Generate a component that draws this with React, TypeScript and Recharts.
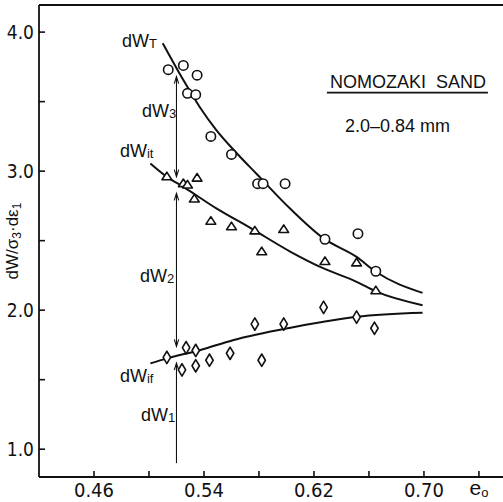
import React from 'react';
import {
  ComposedChart,
  Line,
  Scatter,
  XAxis,
  YAxis,
  ReferenceLine,
  ReferenceDot,
} from 'recharts';

// void ratio e0 of each test
const totalE = [0.514, 0.525, 0.535, 0.528, 0.534, 0.545, 0.560, 0.579, 0.583, 0.599, 0.628, 0.652, 0.665];
// dW_T / sigma3 dE1 (circles)
const totalW = [3.73, 3.76, 3.69, 3.56, 3.55, 3.25, 3.12, 2.91, 2.91, 2.91, 2.51, 2.55, 2.28];

const itE = [0.513, 0.525, 0.528, 0.535, 0.533, 0.545, 0.560, 0.577, 0.582, 0.598, 0.628, 0.651, 0.665];
// dW_it (triangles)
const itW = [2.96, 2.91, 2.90, 2.95, 2.80, 2.64, 2.60, 2.57, 2.42, 2.58, 2.35, 2.34, 2.14];

const ifE = [0.513, 0.527, 0.534, 0.524, 0.534, 0.544, 0.559, 0.577, 0.582, 0.598, 0.627, 0.651, 0.664];
// dW_if (diamonds)
const ifW = [1.66, 1.73, 1.71, 1.57, 1.60, 1.64, 1.69, 1.90, 1.64, 1.90, 2.02, 1.95, 1.87];

// fitted curves
const totalCurveE = [0.510, 0.525, 0.537, 0.549, 0.564, 0.578, 0.603, 0.627, 0.651, 0.665, 0.699];
const totalCurveW = [3.92, 3.655, 3.46, 3.295, 3.127, 2.983, 2.727, 2.516, 2.383, 2.276, 2.124];

const itCurveE = [0.501, 0.513, 0.525, 0.549, 0.574, 0.603, 0.627, 0.651, 0.665, 0.699];
const itCurveW = [3.055, 2.959, 2.887, 2.732, 2.59, 2.42, 2.30, 2.204, 2.135, 2.036];

const ifCurveE = [0.501, 0.513, 0.537, 0.561, 0.603, 0.627, 0.651, 0.699];
const ifCurveW = [1.617, 1.653, 1.712, 1.784, 1.874, 1.916, 1.952, 1.981];

// the vertical arrows splitting dW into dW1, dW2, dW3
const arrowE = 0.520;
const arrow3 = [3.68, 2.96];
const arrow2 = [2.84, 1.74];
const arrow1 = [1.62, 0.90];

const xTicks = [0.46, 0.50, 0.54, 0.58, 0.62, 0.66, 0.70, 0.74];
const xLabelled = [0.46, 0.54, 0.62, 0.70];
const yTicks = [1.0, 1.5, 2.0, 2.5, 3.0, 3.5, 4.0];
const yLabelled = [1.0, 2.0, 3.0, 4.0];

const X_MIN = 0.42;
const X_MAX = 0.7575;
const Y_MIN = 0.8;
const Y_MAX = 4.195;

const INK = '#111';
const NUM_FONT = "'Liberation Sans Narrow', 'DejaVu Sans Condensed', 'Liberation Sans', sans-serif";
const TXT_FONT = "'Liberation Sans', Arial, sans-serif";

const toPoints = (e: number[], w: number[]) => e.map((v, i) => ({ e: v, w: w[i] }));

const OpenCircle = ({ cx, cy }: any) => (
  <circle cx={cx} cy={cy} r={4.7} fill="#fff" stroke={INK} strokeWidth={1.6} />
);

const OpenTriangle = ({ cx, cy }: any) => (
  <path
    d={`M${cx},${cy - 4.6} L${cx + 4.9},${cy + 3} L${cx - 4.9},${cy + 3} Z`}
    fill="#fff"
    stroke={INK}
    strokeWidth={1.6}
    strokeLinejoin="round"
  />
);

const OpenDiamond = ({ cx, cy }: any) => (
  <path
    d={`M${cx},${cy - 6.2} L${cx + 3.7},${cy} L${cx},${cy + 6.2} L${cx - 3.7},${cy} Z`}
    fill="#fff"
    stroke={INK}
    strokeWidth={1.6}
    strokeLinejoin="round"
  />
);

// arrow heads on the ends of a vertical segment: index 0 is the upper end
const arrowDot = (heads: [boolean, boolean]) => (props: any) => {
  const { cx, cy, index } = props;
  if (!heads[index]) return <g key={`a-${index}`} />;
  const s = index === 0 ? 1 : -1;
  return (
    <path
      key={`a-${index}`}
      d={`M${cx - 2.2},${cy + s * 7} L${cx},${cy} L${cx + 2.2},${cy + s * 7}`}
      fill="none"
      stroke={INK}
      strokeWidth={1.1}
    />
  );
};

const XTick = ({ x, y, payload }: any) => {
  const v = Math.round(payload.value * 100);
  const labelled = xLabelled.some((t) => Math.round(t * 100) === v);
  return (
    <g>
      <line x1={x} y1={y} x2={x} y2={y - 6} stroke={INK} strokeWidth={1.6} />
      {labelled && (
        <text x={x} y={y + 20} textAnchor="middle" fontSize={20} fontFamily={NUM_FONT} fill={INK}>
          {payload.value.toFixed(2)}
        </text>
      )}
      {v === 74 && (
        <text x={x} y={y + 18} textAnchor="middle" fontSize={21} fontFamily={TXT_FONT} fill={INK}>
          e<tspan fontSize={13} dy={2}>o</tspan>
        </text>
      )}
    </g>
  );
};

const YTick = ({ x, y, payload }: any) => {
  const labelled = yLabelled.some((t) => Math.abs(t - payload.value) < 1e-6);
  return (
    <g>
      <line x1={x} y1={y} x2={x + 6} y2={y} stroke={INK} strokeWidth={1.6} />
      {labelled && (
        <text x={x - 5} y={y + 7} textAnchor="end" fontSize={19} fontFamily={NUM_FONT} fill={INK}>
          {payload.value.toFixed(1)}
        </text>
      )}
    </g>
  );
};

const subLabel = (main: string, sub: string) => ({ viewBox }: any) => (
  <text x={viewBox.x} y={viewBox.y} fontSize={18} fontFamily={TXT_FONT} fill={INK}>
    {main}
    <tspan fontSize={13} dy={1}>{sub}</tspan>
  </text>
);

const titleLabel = ({ viewBox }: any) => (
  <g>
    <text x={viewBox.x} y={viewBox.y} fontSize={18} fontFamily={TXT_FONT} fill={INK} style={{ whiteSpace: 'pre' }}>
      NOMOZAKI  SAND
    </text>
    <line x1={viewBox.x - 3} y1={viewBox.y + 4.5} x2={viewBox.x + 158} y2={viewBox.y + 4.5} stroke={INK} strokeWidth={1.8} />
  </g>
);

const sizeLabel = ({ viewBox }: any) => (
  <text x={viewBox.x} y={viewBox.y} fontSize={18} fontFamily={TXT_FONT} fill={INK}>
    2.0–0.84 mm
  </text>
);

const yTitle = ({ viewBox }: any) => (
  <text
    transform={`translate(${viewBox.x + 18},${viewBox.y + viewBox.height / 2}) rotate(-90)`}
    textAnchor="middle"
    fontSize={17}
    fontFamily={TXT_FONT}
    fill={INK}
  >
    dW/σ<tspan fontSize={12} dy={3}>3</tspan>
    <tspan dy={-3}>·dε</tspan>
    <tspan fontSize={12} dy={3}>1</tspan>
  </text>
);

const annotations = [
  { e: 0.4804, w: 3.892, content: subLabel('dW', 'T') },
  { e: 0.4949, w: 3.388, content: subLabel('dW', '3') },
  { e: 0.4789, w: 3.101, content: subLabel('dW', 'it') },
  { e: 0.4935, w: 2.201, content: subLabel('dW', '2') },
  { e: 0.4789, w: 1.482, content: subLabel('dW', 'if') },
  { e: 0.4942, w: 1.201, content: subLabel('dW', '1') },
  { e: 0.6316, w: 3.597, content: titleLabel },
  { e: 0.6425, w: 3.281, content: sizeLabel },
];

export default function App() {
  const arrows: [number[], [boolean, boolean]][] = [
    [arrow3, [true, true]],
    [arrow2, [true, true]],
    [arrow1, [true, false]],
  ];
  return (
    <div style={{ position: 'absolute', left: 0, top: 0, width: 503, height: 502, background: '#fff' }}>
      <ComposedChart width={503} height={502} margin={{ top: 5, right: 0, bottom: 0, left: 0 }}>
        <XAxis
          dataKey="e"
          type="number"
          domain={[X_MIN, X_MAX]}
          allowDataOverflow
          ticks={xTicks}
          interval={0}
          height={25}
          tickSize={0}
          tickMargin={0}
          tickLine={false}
          tick={<XTick />}
          axisLine={{ stroke: INK, strokeWidth: 1.8 }}
        />
        <YAxis
          type="number"
          domain={[Y_MIN, Y_MAX]}
          allowDataOverflow
          ticks={yTicks}
          interval={0}
          width={39}
          tickSize={0}
          tickMargin={0}
          tickLine={false}
          tick={<YTick />}
          axisLine={{ stroke: INK, strokeWidth: 1.8 }}
          label={{ content: yTitle }}
        />
        <ReferenceLine y={Y_MAX} stroke={INK} strokeWidth={1.8} />

        <Line data={toPoints(totalCurveE, totalCurveW)} dataKey="w" type="monotone" stroke={INK} strokeWidth={2} dot={false} isAnimationActive={false} />
        <Line data={toPoints(itCurveE, itCurveW)} dataKey="w" type="monotone" stroke={INK} strokeWidth={2} dot={false} isAnimationActive={false} />
        <Line data={toPoints(ifCurveE, ifCurveW)} dataKey="w" type="monotone" stroke={INK} strokeWidth={2} dot={false} isAnimationActive={false} />

        {arrows.map(([seg, heads], i) => (
          <Line
            key={`arrow-${i}`}
            data={seg.map((w) => ({ e: arrowE, w }))}
            dataKey="w"
            type="linear"
            stroke={INK}
            strokeWidth={1.1}
            dot={arrowDot(heads)}
            activeDot={false}
            isAnimationActive={false}
          />
        ))}

        <Scatter data={toPoints(totalE, totalW)} dataKey="w" shape={OpenCircle} isAnimationActive={false} />
        <Scatter data={toPoints(itE, itW)} dataKey="w" shape={OpenTriangle} isAnimationActive={false} />
        <Scatter data={toPoints(ifE, ifW)} dataKey="w" shape={OpenDiamond} isAnimationActive={false} />

        {annotations.map((a, i) => (
          <ReferenceDot key={`ann-${i}`} x={a.e} y={a.w} r={0} fill="none" stroke="none" label={{ content: a.content }} />
        ))}
      </ComposedChart>
    </div>
  );
}
